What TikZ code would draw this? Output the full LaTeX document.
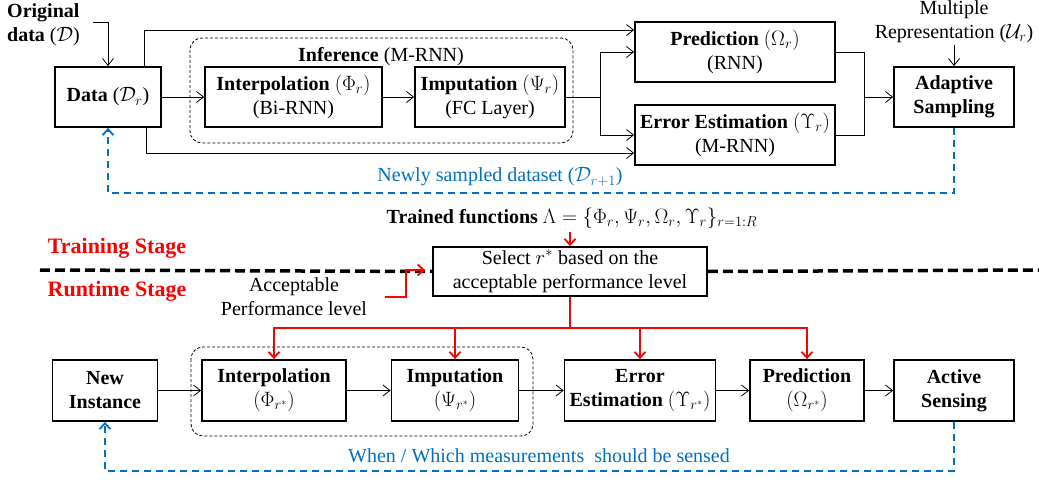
\documentclass[tikz,border=0pt]{standalone}
\usepackage{fontspec}
\setmainfont{Liberation Serif}[Ligatures=TeX]
\newfontfamily\tnr{Liberation Serif}
\usetikzlibrary{arrows.meta,calc}
\definecolor{myblue}{RGB}{0,112,192}
\begin{document}
\begin{tikzpicture}[x=1pt,y=-1pt,
  every node/.style={font=\tnr\fontsize{20}{24}\selectfont},
  box/.style={draw, line width=1.8pt, inner sep=0pt, align=center},
  conn/.style={line width=0.8pt, -{Straight Barb[length=7pt,width=11pt]}},
  plain/.style={line width=0.8pt},
  redarr/.style={red, line width=1.8pt, -{Straight Barb[length=6pt,width=11pt,line width=1.8pt]}},
  redline/.style={red, line width=1.8pt},
  blued/.style={myblue, line width=1.8pt, dash pattern=on 7pt off 5pt, -{Straight Barb[length=6pt,width=11pt]}},
  grp/.style={draw, line width=0.8pt, dash pattern=on 3pt off 2pt, rounded corners=12pt},
  stage/.style={line width=3.5pt, dash pattern=on 10pt off 5pt},
  stagetxt/.style={red, font=\tnr\fontsize{22}{26}\selectfont\bfseries}]
\useasboundingbox (0,0) rectangle (1039,481);

% ---------- top (training) ----------
\draw[grp] (190,38) rectangle (573,143);
\node (inf) at (381,57) {\textbf{Inference} (M-RNN)};

\node[box, minimum width=106pt, minimum height=60pt] (data) at (108,97) {\textbf{Data} ($\mathcal{D}_r$)};
\node[box, minimum width=177pt, minimum height=60pt] (interp) at (293.5,97) {\textbf{Interpolation} $(\Phi_r)$\\(Bi-RNN)};
\node[box, minimum width=150pt, minimum height=60pt] (imput) at (490,97) {\textbf{Imputation} $(\Psi_r)$\\(FC Layer)};
\node[box, minimum width=200pt, minimum height=60pt] (pred) at (735,52) {\textbf{Prediction} $(\Omega_r)$\\(RNN)};
\node[box, minimum width=200pt, minimum height=60pt] (err) at (735,135) {\textbf{Error Estimation} $(\Upsilon_r)$\\(M-RNN)};
\node[box, minimum width=120pt, minimum height=60pt] (adapt) at (954,97) {\textbf{Adaptive}\\\textbf{Sampling}};

\node[anchor=west, align=left, inner sep=0pt] (orig) at (7,25) {\textbf{Original}\\\textbf{data} ($\mathcal{D}$)};
\coordinate (o1) at (93,22);
\draw[conn] (o1) -| (data.north);

\node[align=center, inner sep=0pt] (mr) at (954,22) {Multiple\\Representation ($\mathcal{U}_r$)};
\coordinate (mrs) at (954,45);
\draw[conn] (mrs) -- (adapt.north);

\draw[conn] (data.east) -- (interp.west);
\draw[conn] (interp.east) -- (imput.west);
\draw[conn] ($(data.north)+(36,0)$) |- ($(pred.west)+(0,-22)$);
\draw[conn] ($(data.south)+(38,0)$) |- ($(err.west)+(0,18)$);
\coordinate (s1) at (600,97);
\draw[plain] (imput.east) -- (s1);
\draw[conn] (s1) |- (pred.west);
\draw[conn] (s1) |- (err.west);
\coordinate (s2) at (864,97);
\draw[plain] (pred.east) -| (s2);
\draw[plain] (err.east) -| (s2);
\draw[conn] (s2) -- (adapt.west);

\draw[blued] (adapt.south) -- ++(0,65) -| (data.south);
\node[myblue] (nsd) at (500,177) {Newly sampled dataset ($\mathcal{D}_{r+1}$)};

% ---------- middle ----------
\node (trained) at (572,218) {\textbf{Trained functions} $\Lambda=\{\Phi_r,\Psi_r,\Omega_r,\Upsilon_r\}_{r=1:R}$};
\node[box, minimum width=274pt, minimum height=49pt] (select) at (570,271.5) {Select $r^{*}$ based on the\\acceptable performance level};
\coordinate (tr) at (570,232);
\draw[redarr] (tr) -- (select.north);

\coordinate (dl) at (40,270);
\coordinate (dr) at (1039,270);
\draw[stage] (dl) -- (select.west);
\draw[stage] (select.east) -- (dr);

\node[stagetxt] (ts) at (117,248) {Training Stage};
\node[stagetxt] (rs) at (117,291) {Runtime Stage};

\node[align=center, inner sep=0pt] (acc) at (294,296.5) {Acceptable\\Performance level};
\coordinate (a1) at (385,297);
\coordinate (a2) at (406,297);
\coordinate (a3) at (425,270);
\draw[redarr] (a1) -- (a2) |- (a3);

% ---------- bottom (runtime) ----------
\draw[grp] (191,347) rectangle (533,436);
\node[box, minimum width=105pt, minimum height=61pt] (new) at (105,390.5) {\textbf{New}\\\textbf{Instance}};
\node[box, minimum width=144pt, minimum height=61pt] (i2) at (274,390.5) {\textbf{Interpolation}\\$(\Phi_{r^{*}})$};
\node[box, minimum width=127pt, minimum height=61pt] (m2) at (455,390.5) {\textbf{Imputation}\\$(\Psi_{r^{*}})$};
\node[box, minimum width=151pt, minimum height=61pt] (e2) at (640,390.5) {\textbf{Error}\\\textbf{Estimation} $(\Upsilon_{r^{*}})$};
\node[box, minimum width=114pt, minimum height=61pt] (p2) at (807,390.5) {\textbf{Prediction}\\$(\Omega_{r^{*}})$};
\node[box, minimum width=120pt, minimum height=61pt] (act) at (954,390.5) {\textbf{Active}\\\textbf{Sensing}};

\draw[conn] (new.east) -- (i2.west);
\draw[conn] (i2.east) -- (m2.west);
\draw[conn] (m2.east) -- (e2.west);
\draw[conn] (e2.east) -- (p2.west);
\draw[conn] (p2.east) -- (act.west);

\coordinate (bus) at (570,328);
\draw[redline] (select.south) -- (bus);
\draw[redarr] (bus) -| (i2.north);
\draw[redarr] (bus) -| (m2.north);
\draw[redarr] (bus) -| (e2.north);
\draw[redarr] (bus) -| (p2.north);

\draw[blued] (act.south) -- ++(0,49) -| (new.south);
\node[myblue] (when) at (539,456) {When / Which measurements\ \ should be sensed};
\end{tikzpicture}
\end{document}
